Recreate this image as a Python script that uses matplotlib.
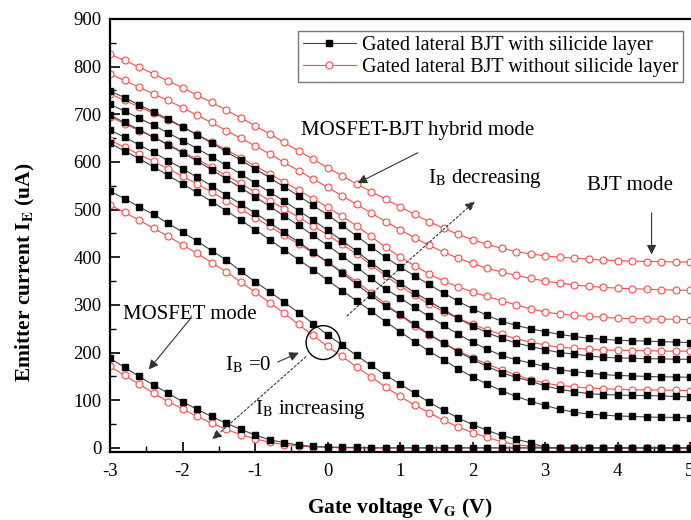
import numpy as np
import matplotlib
matplotlib.use("Agg")
import matplotlib.pyplot as plt
from matplotlib.patches import Ellipse

plt.rcParams['font.family'] = ['Liberation Serif', 'DejaVu Serif']
plt.rcParams['mathtext.fontset'] = 'stix'
plt.rcParams['axes.unicode_minus'] = False

# gate voltage, -3 V .. 5 V in 0.2 V steps
vg = [-3.0, -2.8, -2.6, -2.4, -2.2, -2.0, -1.8, -1.6, -1.4, -1.2,
      -1.0, -0.8, -0.6, -0.4, -0.2, 0.0, 0.2, 0.4, 0.6, 0.8,
      1.0, 1.2, 1.4, 1.6, 1.8, 2.0, 2.2, 2.4, 2.6, 2.8,
      3.0, 3.2, 3.4, 3.6, 3.8, 4.0, 4.2, 4.4, 4.6, 4.8, 5.0]

# with silicide layer (black squares), emitter current in uA
b1 = [749, 735, 720, 705, 690, 674, 657, 640, 622, 604,
      586, 567, 548, 529, 509, 489, 467, 445, 422, 400,
      380, 361, 343, 325, 308, 292, 278, 266, 257, 250,
      244, 238, 234, 230, 228, 226, 225, 224, 223, 222, 221]
b2 = [721, 707, 692, 677, 661, 645, 628, 611, 593, 575,
      556, 537, 518, 498, 478, 457, 435, 413, 389, 367,
      346, 326, 308, 290, 272, 256, 242, 230, 220, 213,
      206, 200, 197, 193, 190, 189, 188, 187, 187, 186, 186]
b3 = [698, 683, 668, 652, 636, 619, 602, 584, 565, 546,
      527, 507, 487, 467, 446, 425, 403, 380, 356, 333,
      315, 295, 276, 257, 239, 222, 207, 194, 185, 178,
      171, 164, 160, 157, 154, 152, 151, 150, 149, 149, 148]
b4 = [667, 652, 636, 620, 603, 586, 568, 550, 531, 512,
      493, 473, 452, 432, 411, 390, 367, 344, 320, 298,
      280, 259, 239, 220, 202, 186, 171, 158, 148, 140,
      130, 123, 118, 114, 112, 111, 110, 110, 109, 108, 107]
b5 = [639, 623, 607, 590, 572, 554, 536, 517, 498, 478,
      458, 437, 416, 395, 374, 352, 330, 309, 287, 265,
      244, 223, 203, 185, 166, 149, 134, 120, 108, 98,
      89, 81, 75, 71, 69, 67, 66, 65, 64, 64, 63]
b6 = [539, 523, 506, 490, 471, 453, 434, 414, 395, 371,
      349, 328, 306, 284, 261, 237, 216, 194, 173, 153,
      134, 115, 96, 79, 63, 49, 37, 26, 18, 11,
      1, 0, 0, 0, 0, 0, 0, 0, 0, 0, 0]
b7 = [188, 169, 150, 132, 115, 97, 81, 66, 52, 39,
      27, 17, 11, 6, 3, 2, 1, 1, 0, 0,
      0, 0, 0, 0, 0, 0, 0, 0, 0, 0,
      0, 0, 0, 0, 0, 0, 0, 0, 0, 0, 0]

# without silicide layer (red circles)
r1 = [826, 813, 799, 785, 770, 756, 740, 725, 709, 693,
      676, 659, 641, 623, 606, 588, 571, 554, 538, 522,
      506, 490, 475, 461, 448, 437, 427, 419, 412, 407,
      403, 400, 398, 396, 394, 393, 392, 391, 391, 390, 390]
r2 = [785, 771, 757, 743, 729, 714, 698, 683, 666, 650,
      634, 617, 599, 582, 564, 547, 529, 511, 493, 475,
      458, 441, 425, 411, 398, 387, 377, 369, 362, 356,
      350, 346, 342, 339, 337, 335, 334, 333, 332, 331, 331]
r3 = [743, 729, 716, 702, 688, 673, 658, 642, 626, 609,
      592, 575, 558, 541, 523, 505, 486, 466, 444, 421,
      401, 382, 365, 350, 338, 327, 318, 309, 300, 292,
      285, 281, 278, 276, 274, 272, 271, 271, 270, 270, 269]
r4 = [695, 680, 666, 652, 637, 621, 606, 589, 572, 555,
      537, 519, 502, 484, 466, 447, 427, 407, 384, 361,
      340, 320, 302, 286, 272, 259, 248, 238, 229, 222,
      216, 211, 209, 207, 205, 205, 204, 204, 203, 203, 203]
r5 = [646, 631, 616, 601, 586, 570, 554, 537, 519, 501,
      483, 465, 446, 428, 409, 390, 370, 349, 326, 302,
      279, 256, 237, 220, 204, 189, 176, 164, 153, 143,
      136, 131, 128, 126, 124, 123, 122, 122, 121, 121, 120]
r6 = [510, 494, 478, 461, 444, 426, 408, 389, 370, 348,
      327, 305, 283, 259, 236, 213, 192, 170, 149, 128,
      108, 90, 74, 58, 44, 32, 22, 13, 7, 3,
      1, 0, 0, 0, 0, 0, 0, 0, 0, 0, 0]
r7 = [171, 152, 134, 115, 97, 82, 66, 52, 39, 28,
      19, 12, 7, 4, 2, 1, 0, 0, 0, 0,
      0, 0, 0, 0, 0, 0, 0, 0, 0, 0,
      0, 0, 0, 0, 0, 0, 0, 0, 0, 0, 0]

black_curves = [b1, b2, b3, b4, b5, b6, b7]
red_curves = [r1, r2, r3, r4, r5, r6, r7]

RED = '#ff4a4a'

fig = plt.figure(figsize=(6.91, 5.2), dpi=100)
ax = fig.add_axes([110 / 691, 1 - 451.7 / 520, 580 / 691, (451.7 - 19) / 520])

for k, y in enumerate(red_curves):
    ax.plot(vg, y, '-o', color=RED, lw=0.8, ms=5, mfc='white', mec=RED, mew=0.8,
            label='Gated lateral BJT without silicide layer' if k == 0 else None, zorder=2)
for k, y in enumerate(black_curves):
    ax.plot(vg, y, '-s', color='#444444', lw=0.8, ms=4.4, mfc='black', mec='black',
            label='Gated lateral BJT with silicide layer' if k == 0 else None, zorder=3)

ax.set_xlim(-3, 5)
ax.set_ylim(-8, 900)
ax.set_xticks([-3, -2, -1, 0, 1, 2, 3, 4, 5])
ax.set_yticks(range(0, 901, 100))
ax.set_xticks(np.arange(-2.5, 5, 1.0), minor=True)
ax.set_yticks(range(50, 900, 100), minor=True)
ax.tick_params(which='major', direction='in', length=7, width=1.2, labelsize=13.5, pad=8)
ax.tick_params(which='minor', direction='in', length=4, width=1.0)
ax.tick_params(axis='y', pad=6)
for s in ['left', 'bottom', 'top']:
    ax.spines[s].set_linewidth(1.6)
ax.spines['right'].set_visible(False)

ax.set_xlabel(r'Gate voltage V$_\mathbf{G}$ (V)', fontsize=15.5, fontweight='bold', labelpad=12)
ax.set_ylabel(r'Emitter current I$_\mathbf{E}$ (uA)', fontsize=15.5, fontweight='bold')
ax.yaxis.set_label_coords(-0.125, 0.415)

# legend, black first
h, l = ax.get_legend_handles_labels()
leg = ax.legend(h[::-1], l[::-1], loc='upper right', bbox_to_anchor=(683 / 691, 1 - 31 / 520),
                bbox_transform=fig.transFigure, fontsize=14.5, handlelength=2.6,
                fancybox=False, edgecolor='#777777', framealpha=1, borderaxespad=0,
                borderpad=0.25, labelspacing=0.15, handletextpad=0.3)
leg.get_frame().set_linewidth(1.0)

arr = dict(arrowstyle='-|>', color='#333333', lw=0.8, mutation_scale=14)
dot = dict(arrowstyle='-|>', color='#333333', lw=0.8, ls=(0, (2, 2)), mutation_scale=14)

ax.text(-0.37, 667, 'MOSFET-BJT hybrid mode', fontsize=15, va='center', ha='left')
ax.annotate('', xy=(0.38, 553), xytext=(1.28, 622), arrowprops=arr)

ax.text(1.39, 566, r'I$_\mathrm{B}$ decreasing', fontsize=15, va='center', ha='left')
ax.annotate('', xy=(2.06, 521), xytext=(0.24, 273), arrowprops=dot)

ax.text(3.58, 551, 'BJT mode', fontsize=15, va='center', ha='left')
ax.annotate('', xy=(4.47, 400), xytext=(4.47, 499), arrowprops=arr)

ax.text(-2.82, 279, 'MOSFET mode', fontsize=15, va='center', ha='left')
ax.annotate('', xy=(-2.49, 160), xytext=(-1.87, 275), arrowprops=arr)

ax.text(-1.41, 174, r'I$_\mathrm{B}$ =0', fontsize=15, va='center', ha='left')
ax.annotate('', xy=(-0.36, 202), xytext=(-0.72, 178), arrowprops=arr)
ax.add_patch(Ellipse((-0.06, 221), 0.47, 71, fill=False, ec='black', lw=1.0, zorder=5))

ax.text(-1.0, 80, r'I$_\mathrm{B}$ increasing', fontsize=15, va='center', ha='left')
ax.annotate('', xy=(-1.62, 14), xytext=(-0.27, 195), arrowprops=dot)

fig.savefig('out.png', dpi=100)
